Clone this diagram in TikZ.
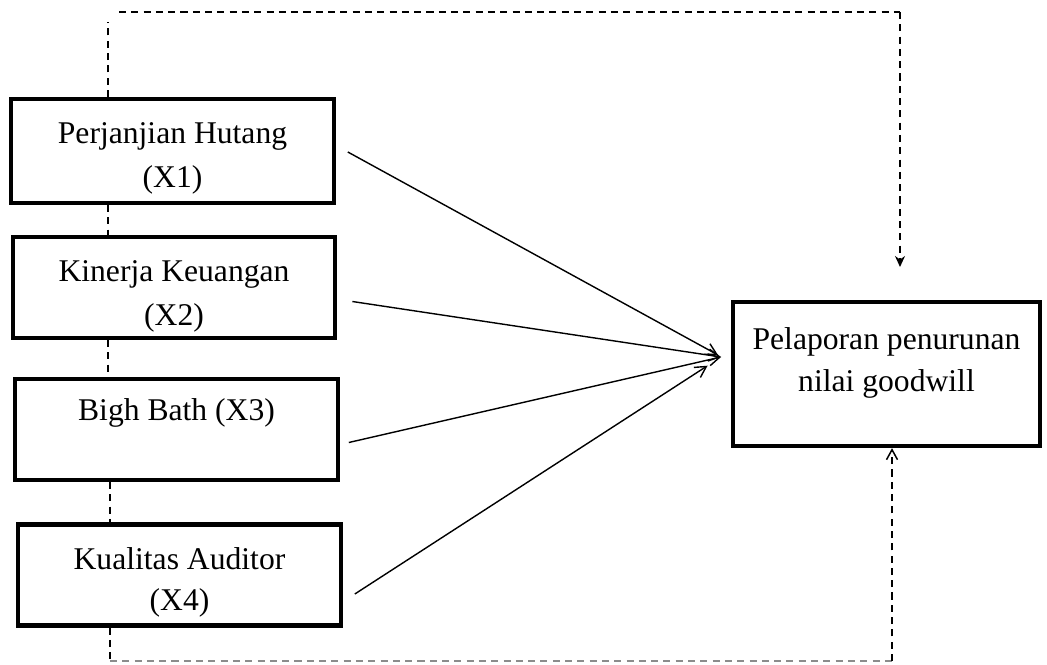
\documentclass[tikz,border=0pt]{standalone}
\usepackage{fontspec}
\setmainfont{Liberation Serif}
\usetikzlibrary{arrows.meta}
\begin{document}
\begin{tikzpicture}[
    x=0.02cm, y=-0.02cm,
    varbox/.style={rectangle, draw=black, line width=2.4pt, minimum width=6.45cm, minimum height=2.02cm, align=center, font=\fontsize{18}{25}\selectfont, inner sep=0pt},
    depbox/.style={rectangle, draw=black, line width=2.4pt, minimum width=6.14cm, minimum height=2.76cm, align=center, font=\fontsize{18}{25}\selectfont, inner sep=0pt},
    dashline/.style={line width=0.85pt, dash pattern=on 4pt off 3pt},
    arrowline/.style={line width=0.8pt, -{Straight Barb[length=2.2mm, width=2.4mm]}}
]
\useasboundingbox (0,0) rectangle (1047,665);

\node[varbox, minimum height=2.08cm] (x1) at (172.5, 151) {\rule{0pt}{20pt}Perjanjian Hutang\\(X1)};
\node[varbox] (x2) at (174, 287.5) {\rule{0pt}{22pt}Kinerja Keuangan\\(X2)};
\node[varbox] (x3) at (176.5, 429.5) {\rule{0pt}{22pt}Bigh Bath (X3)\\\strut};
\node[varbox] (x4) at (179.5, 575) {\rule{0pt}{21pt}Kualitas Auditor\\[-2pt](X4)};
\node[depbox] (y) at (886.5, 374) {\rule{0pt}{27pt}Pelaporan penurunan\\[-1pt]nilai goodwill\\[6pt]};

% hub of the solid arrows
\coordinate (hub) at (721, 357);
\coordinate (lx) at (108, 0);
\coordinate (lx2) at (110, 0);
\coordinate (topl) at (108, 22);
\coordinate (topc) at (119, 12);
\coordinate (topr) at (900, 12);
\coordinate (topend) at (900, 267);
\coordinate (botl) at (110, 661);
\coordinate (botr) at (892, 661);

% simultaneous path
\draw[dashline] (x1.north -| lx) -- (topl);
\draw[dashline] (topc) -- (topr);
\draw[dashline, -{Stealth[length=2.2mm, width=2mm]}] (topr) -- (topend);

% dashed links between the boxes
\draw[dashline] (x1.south -| lx) -- (x2.north -| lx);
\draw[dashline] (x2.south -| lx) -- (x3.north -| lx);
\draw[dashline] (x3.south -| lx2) -- (x4.north -| lx2);

% lower path
\draw[dashline] (x4.south -| botl) -- (botl);
\draw[dashline, black!45] (botl) -- (botr);
\draw[dashline, -{Straight Barb[length=2mm, width=2.2mm]}] (botr) -- (y.south -| botr);

% partial effects
\draw[arrowline] ([shift={(12,1)}]x1.east) -- ([shift={(-3,-2)}]hub);
\draw[arrowline] ([shift={(15,14)}]x2.east) -- (hub);
\draw[arrowline] ([shift={(9,13)}]x3.east) -- (hub);
\draw[arrowline, shorten >=0.32cm] ([shift={(12,19)}]x4.east) -- (hub);
\end{tikzpicture}
\end{document}
